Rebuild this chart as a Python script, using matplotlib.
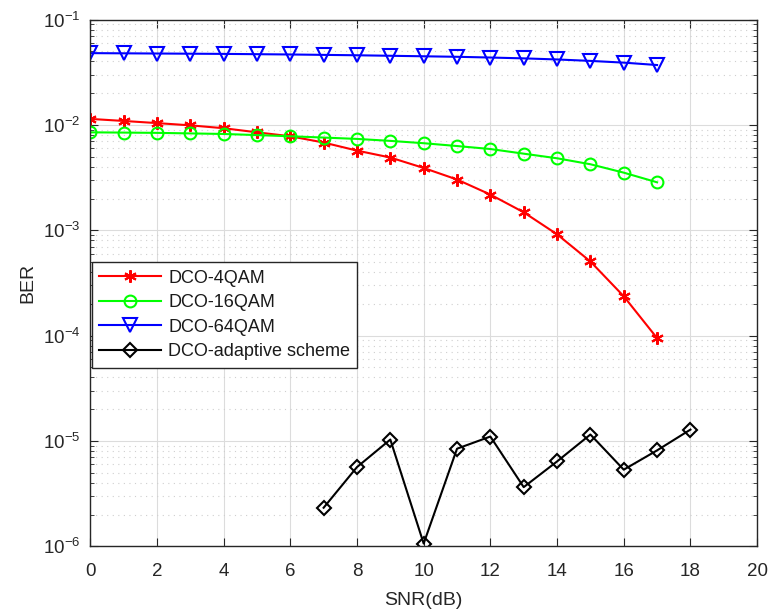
import matplotlib

matplotlib.use("Agg")
import matplotlib.pyplot as plt
from matplotlib.ticker import FixedLocator, LogLocator, NullFormatter

plt.rcParams["font.family"] = ["Liberation Sans", "DejaVu Sans"]
plt.rcParams["mathtext.fontset"] = "custom"
plt.rcParams["mathtext.rm"] = "Liberation Sans"
plt.rcParams["mathtext.it"] = "Liberation Sans"

TEXT = "#262626"

# SNR (dB)
snr = list(range(0, 18))
snr_adaptive = list(range(7, 19))

ber_4qam = [0.0114, 0.0109, 0.0104, 0.0099, 0.0093, 0.0085, 0.0078, 0.0068,
            0.0057, 0.0049, 0.0039, 0.00303, 0.00218, 0.00148, 0.000915,
            0.000505, 0.000236, 0.0000946]
ber_16qam = [0.0085, 0.00845, 0.0084, 0.0083, 0.0082, 0.0080, 0.0078, 0.00758,
             0.00736, 0.00705, 0.0067, 0.0063, 0.0059, 0.00533, 0.00482,
             0.00423, 0.00352, 0.00285]
ber_64qam = [0.048, 0.0478, 0.0476, 0.0474, 0.0472, 0.0469, 0.0466, 0.0462,
             0.0458, 0.0453, 0.0448, 0.0443, 0.0436, 0.0428, 0.0418, 0.0405,
             0.039, 0.037]
ber_adaptive = [2.32e-6, 5.64e-6, 1.03e-5, 1.06e-6, 8.43e-6, 1.10e-5, 3.64e-6,
                6.38e-6, 1.15e-5, 5.33e-6, 8.13e-6, 1.28e-5]

labels = ["DCO-4QAM", "DCO-16QAM", "DCO-64QAM", "DCO-adaptive scheme"]

fig = plt.figure(figsize=(7.71, 6.11), dpi=100)
ax = fig.add_axes([0.117, 0.106, 0.865, 0.862])

lw = 1.5
ax.semilogy(snr, ber_4qam, color="red", marker=(6, 2, 0), markersize=9,
            markeredgewidth=1.5, linewidth=lw, label=labels[0])
ax.semilogy(snr, ber_16qam, color=(0, 1, 0), marker="o", markersize=8.5,
            markerfacecolor="none", markeredgewidth=1.5, linewidth=lw, label=labels[1])
ax.semilogy(snr, ber_64qam, color="blue", marker="v", markersize=9.5,
            markerfacecolor="none", markeredgewidth=1.5, linewidth=lw, label=labels[2])
ax.semilogy(snr_adaptive, ber_adaptive, color="black", marker="D", markersize=7,
            markerfacecolor="none", markeredgewidth=1.5, linewidth=lw, label=labels[3])

ax.set_xlim(0, 20)
ax.set_ylim(1e-6, 1e-1)
ax.xaxis.set_major_locator(FixedLocator(range(0, 21, 2)))
ax.yaxis.set_major_locator(LogLocator(base=10, numticks=10))
ax.yaxis.set_minor_locator(LogLocator(base=10, subs=range(2, 10), numticks=20))
ax.yaxis.set_minor_formatter(NullFormatter())

ax.grid(True, which="major", color="#dcdcdc", linewidth=0.8)
ax.grid(True, which="minor", axis="y", color="#cfcfcf", linestyle=(0, (1, 4)), linewidth=0.8)
ax.set_axisbelow(True)

ax.tick_params(which="both", direction="in", top=True, right=True, colors=TEXT,
               labelsize=13.5)
ax.tick_params(which="major", length=6)
ax.tick_params(which="minor", length=3)
ax.tick_params(axis="x", which="major", pad=12)
ax.tick_params(axis="y", which="major", pad=7)
for sp in ax.spines.values():
    sp.set_color(TEXT)
    sp.set_linewidth(1.0)

ax.set_xlabel("SNR(dB)", fontsize=14, color=TEXT, labelpad=9)
ax.set_ylabel("BER", fontsize=14, color=TEXT, labelpad=5)

leg = ax.legend(loc="upper left", bbox_to_anchor=(0.003, 0.539), fontsize=13,
                frameon=True, fancybox=False, edgecolor=TEXT, framealpha=1,
                handlelength=3.4, handletextpad=0.4, borderpad=0.4,
                labelspacing=0.42, borderaxespad=0)
leg.get_frame().set_linewidth(1.0)
for t in leg.get_texts():
    t.set_color("#1a1a1a")

fig.savefig("out.png", dpi=100)
